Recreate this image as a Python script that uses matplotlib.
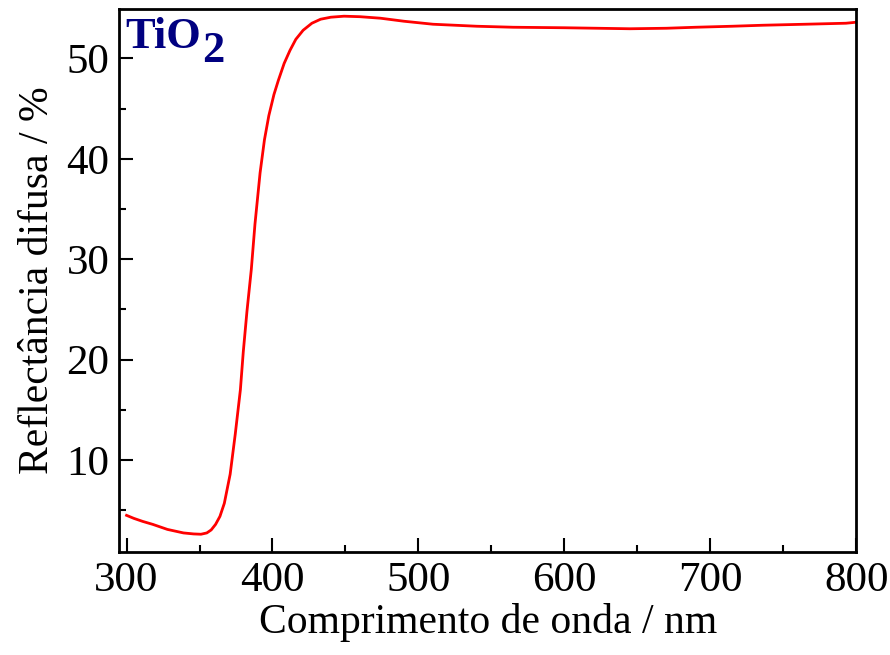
#!/usr/bin python3

# import required libraries
import matplotlib
matplotlib.use("Agg")
import matplotlib.pyplot as plt
from matplotlib.ticker import MultipleLocator

# diffuse reflectance spectrum of TiO2
wavelength = [300, 305, 311, 318, 328, 339, 346, 351, 355, 358, 361, 364,
              367, 371, 374.5, 378, 380, 382.5, 385.5, 388, 391.5, 394.5,
              397.5, 401, 404, 408, 412, 416, 421, 427, 433, 440, 449, 460,
              474, 490, 510, 540, 565, 600, 645, 670, 690, 715, 736, 765,
              793, 800]
reflectance = [4.5, 4.2, 3.9, 3.6, 3.1, 2.75, 2.65, 2.62, 2.75, 3.05, 3.6,
               4.4, 5.7, 8.6, 12.6, 17.0, 20.8, 24.8, 29.0, 33.5, 38.6, 41.9,
               44.3, 46.4, 47.8, 49.5, 50.8, 51.9, 52.8, 53.5, 53.9, 54.1,
               54.2, 54.15, 54.0, 53.7, 53.4, 53.2, 53.1, 53.05, 52.95, 53.0,
               53.1, 53.2, 53.3, 53.4, 53.5, 53.6]


def main():
    plt.rcParams['font.family'] = ['Liberation Serif', 'DejaVu Serif']

    fig = plt.figure(figsize=(8.9, 6.55), dpi=100)
    ax = fig.add_axes([0.134, 0.158, 0.828, 0.828])

    ax.plot(wavelength, reflectance, color='red', linewidth=2.0)

    ax.set_xlim(295, 800)
    ax.set_ylim(0.9, 54.9)
    ax.xaxis.set_major_locator(MultipleLocator(100))
    ax.xaxis.set_minor_locator(MultipleLocator(50))
    ax.yaxis.set_major_locator(MultipleLocator(10))
    ax.yaxis.set_minor_locator(MultipleLocator(5))
    ax.set_yticks([10, 20, 30, 40, 50])

    ax.tick_params(which='major', direction='in', length=10, width=1.5,
                   labelsize=31, pad=7)
    ax.tick_params(which='minor', direction='in', length=5, width=1.5)
    for spine in ax.spines.values():
        spine.set_linewidth(2)

    ax.set_xlabel("Comprimento de onda / nm", fontsize=30, labelpad=2)
    ax.set_ylabel("Reflectância difusa / %", fontsize=30, labelpad=7)

    # sample label, with a full-size lowered subscript
    label = ax.text(0.008, 0.985, "TiO", transform=ax.transAxes,
                    fontsize=32, fontweight='bold', color='#000080',
                    ha='left', va='top')
    ax.annotate("2", xy=(1, 0), xycoords=label, xytext=(1, -10),
                textcoords='offset points', fontsize=32, fontweight='bold',
                color='#000080', ha='left', va='bottom')

    plt.savefig("out.png", dpi=100)


if __name__ == '__main__':
    main()
